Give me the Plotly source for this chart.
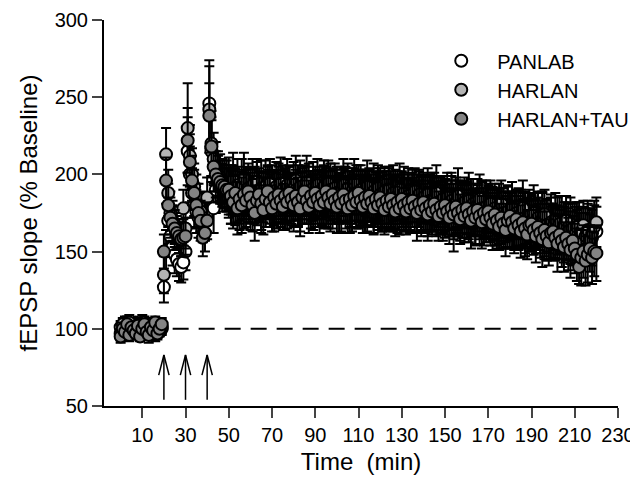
import plotly.graph_objects as go

# ---------------- data ----------------
time_min = list(range(0, 221))   # one sample per minute

panlab_mean = (
    [101, 98, 103, 99, 97, 102, 100, 104, 98, 101, 99, 103, 97, 100, 102, 98, 101, 99, 103, 100]
    + [127, 150, 170, 160, 153, 148, 145, 142, 140, 143]
    + [150, 215, 200, 188, 180, 176, 172, 175, 168, 170]
    + [175, 246, 215, 178, 190, 195, 192, 190, 192, 190]
    + [188, 185, 191, 183, 187, 180, 186, 182, 189, 184,
       181, 187, 183, 190, 185, 179, 186, 182, 188, 184,
       186, 180, 185, 189, 183, 187, 181, 185, 190, 184,
       182, 188, 184, 179, 186, 183, 189, 185, 180, 186,
       183, 187, 181, 185, 190, 184, 180, 186, 182, 187,
       184, 179, 185, 188, 182, 186, 180, 184, 189, 183,
       181, 186, 183, 178, 185, 188, 182, 179, 184, 187,
       182, 178, 185, 181, 186, 180, 183, 187, 179, 184,
       181, 185, 178, 183, 180, 186, 182, 177, 184, 180,
       183, 179, 176, 182, 185, 178, 181, 177, 183, 179,
       175, 181, 177, 183, 168, 176, 180, 174, 178, 181,
       176, 172, 179, 175, 170, 177, 173, 179, 171, 175,
       178, 172, 175, 170, 176, 173, 168, 174, 171, 176,
       169, 173, 167, 172, 175, 168, 171, 165, 170, 173,
       167, 171, 164, 169, 166, 172, 163, 168, 165, 170,
       166, 162, 168, 164, 170, 161, 166, 163, 168, 160,
       165, 161, 167, 158, 163, 160, 166, 162, 159, 164,
       163]
)
panlab_sem = (
    [4, 3, 5, 4, 3, 4, 5, 3, 4, 4, 3, 5, 4, 3, 4, 4, 3, 5, 4, 4]
    + [10, 14, 15, 13, 12, 12, 11, 11, 10, 11]
    + [12, 22, 18, 16, 15, 14, 13, 12, 12, 12]
    + [12, 28, 20, 16, 15, 15, 14, 14, 14, 14]
    + [16, 17, 15, 16, 18, 16, 15, 17, 16, 15,
       17, 16, 15, 18, 16, 17, 15, 16, 17, 16,
       15, 17, 16, 18, 15, 16, 17, 16, 15, 17,
       16, 15, 17, 16, 18, 15, 16, 17, 15, 16,
       17, 16, 15, 17, 16, 18, 15, 16, 17, 16,
       15, 17, 16, 15, 17, 16, 18, 16, 15, 17,
       16, 17, 15, 16, 18, 16, 15, 17, 16, 17,
       16, 15, 17, 16, 18, 17, 15, 16, 17, 16,
       17, 16, 15, 17, 16, 17, 16, 15, 18, 16,
       15, 17, 16, 18, 16, 15, 17, 16, 15, 17,
       16, 15, 17, 16, 18, 15, 16, 17, 16, 15,
       17, 16, 18, 15, 16, 17, 15, 16, 17, 16,
       15, 16, 17, 16, 15, 18, 16, 17, 15, 16,
       17, 15, 16, 18, 16, 15, 17, 16, 15, 17,
       16, 17, 15, 16, 17, 16, 18, 15, 16, 17,
       15, 16, 17, 15, 16, 18, 16, 15, 17, 16,
       17, 16, 15, 17, 16, 15, 17, 16, 18, 16,
       16]
)

harlan_mean = (
    [97, 103, 100, 96, 104, 99, 101, 98, 102, 100, 104, 97, 101, 99, 103, 100, 96, 102, 98, 101]
    + [135, 213, 188, 175, 170, 167, 163, 160, 158, 178]
    + [165, 230, 212, 200, 192, 186, 180, 176, 172, 170]
    + [185, 242, 220, 210, 205, 200, 198, 196, 195, 194]
    + [194, 190, 196, 189, 193, 186, 192, 197, 188, 191,
       186, 193, 189, 195, 187, 191, 185, 192, 188, 194,
       189, 185, 192, 188, 194, 190, 186, 193, 189, 185,
       191, 196, 188, 192, 186, 190, 195, 189, 184, 191,
       187, 193, 189, 185, 192, 188, 194, 190, 186, 191,
       188, 184, 190, 193, 187, 191, 185, 189, 194, 188,
       186, 190, 184, 188, 192, 186, 183, 189, 185, 191,
       187, 183, 189, 185, 190, 184, 188, 182, 186, 190,
       184, 188, 182, 186, 180, 185, 189, 183, 187, 181,
       185, 181, 187, 183, 179, 184, 188, 182, 178, 184,
       180, 185, 179, 183, 177, 182, 186, 180, 176, 182,
       178, 183, 177, 181, 175, 180, 184, 178, 174, 179,
       176, 181, 174, 178, 172, 177, 181, 175, 171, 176,
       173, 178, 171, 175, 169, 174, 178, 172, 168, 173,
       170, 175, 168, 172, 166, 171, 174, 167, 163, 169,
       166, 171, 164, 168, 162, 167, 170, 163, 159, 165,
       161, 166, 158, 163, 167, 160, 164, 158, 162, 166,
       169]
)
harlan_sem = (
    [3, 4, 4, 3, 5, 4, 3, 4, 4, 3, 5, 4, 3, 4, 4, 3, 4, 5, 3, 4]
    + [12, 17, 15, 14, 13, 12, 12, 11, 11, 12]
    + [13, 29, 20, 17, 15, 14, 14, 13, 13, 13]
    + [13, 28, 21, 17, 16, 15, 15, 14, 14, 15]
    + [17, 16, 18, 15, 17, 16, 18, 17, 15, 16,
       18, 17, 16, 15, 17, 18, 16, 17, 15, 16,
       17, 18, 16, 15, 17, 16, 18, 17, 16, 15,
       17, 16, 18, 17, 15, 16, 17, 18, 16, 17,
       15, 17, 16, 18, 17, 16, 15, 17, 18, 16,
       17, 16, 15, 17, 18, 16, 17, 15, 16, 18,
       17, 16, 18, 15, 17, 16, 17, 18, 16, 15,
       17, 18, 16, 17, 15, 16, 18, 17, 16, 17,
       18, 17, 16, 18, 17, 16, 15, 17, 16, 18,
       16, 18, 17, 15, 16, 17, 18, 16, 17, 15,
       17, 16, 15, 18, 17, 16, 18, 15, 17, 16,
       16, 18, 17, 16, 15, 17, 16, 18, 15, 17,
       18, 15, 17, 16, 18, 17, 15, 16, 18, 17,
       16, 17, 18, 15, 17, 16, 18, 17, 16, 15,
       17, 18, 16, 17, 15, 18, 16, 17, 18, 16,
       15, 17, 16, 18, 17, 15, 16, 18, 17, 16,
       18, 16, 17, 15, 16, 18, 17, 16, 15, 17,
       16]
)

tau_mean = (
    [95, 100, 98, 103, 96, 101, 99, 97, 102, 95, 100, 103, 98, 96, 101, 99, 104, 97, 100, 103]
    + [150, 196, 180, 172, 168, 165, 162, 160, 158, 159]
    + [160, 222, 208, 196, 188, 180, 175, 170, 159, 162]
    + [170, 238, 218, 205, 200, 197, 195, 193, 192, 190]
    + [190, 186, 182, 188, 178, 184, 180, 187, 183, 189,
       185, 180, 175, 183, 187, 181, 177, 184, 189, 182,
       178, 185, 181, 187, 183, 179, 186, 182, 188, 184,
       180, 186, 182, 178, 185, 189, 183, 179, 186, 182,
       188, 184, 180, 186, 182, 189, 185, 181, 187, 183,
       179, 185, 181, 187, 183, 178, 184, 180, 186, 182,
       188, 183, 179, 185, 181, 186, 182, 178, 184, 180,
       185, 181, 177, 183, 179, 184, 180, 176, 182, 178,
       184, 180, 176, 182, 178, 183, 179, 175, 181, 177,
       182, 178, 174, 180, 176, 181, 177, 173, 179, 175,
       180, 176, 172, 178, 174, 179, 175, 171, 177, 173,
       178, 174, 170, 176, 172, 177, 173, 169, 175, 171,
       176, 172, 168, 174, 170, 166, 172, 168, 164, 170,
       173, 169, 165, 171, 167, 163, 169, 165, 161, 167,
       168, 164, 160, 166, 162, 158, 164, 160, 156, 162,
       163, 159, 155, 161, 157, 153, 159, 155, 151, 157,
       152, 148, 140, 146, 150, 144, 148, 152, 146, 150,
       149]
)
tau_sem = (
    [4, 4, 3, 5, 4, 3, 4, 4, 5, 3, 4, 3, 4, 5, 4, 3, 4, 4, 3, 4]
    + [11, 15, 14, 13, 12, 12, 11, 11, 11, 12]
    + [12, 21, 18, 16, 15, 14, 13, 13, 12, 12]
    + [12, 21, 19, 16, 15, 15, 14, 14, 14, 14]
    + [16, 18, 17, 15, 17, 16, 18, 16, 17, 15,
       16, 17, 18, 16, 15, 17, 16, 18, 17, 16,
       15, 17, 16, 18, 17, 15, 16, 17, 18, 16,
       17, 15, 16, 18, 17, 16, 15, 17, 16, 18,
       17, 16, 18, 15, 17, 16, 17, 18, 16, 15,
       17, 16, 18, 17, 15, 16, 18, 17, 16, 17,
       18, 16, 17, 15, 18, 17, 16, 17, 18, 16,
       17, 18, 16, 17, 15, 18, 17, 16, 18, 17,
       16, 17, 15, 18, 16, 17, 16, 18, 15, 17,
       18, 16, 17, 16, 15, 18, 17, 16, 17, 18,
       16, 15, 17, 18, 16, 17, 15, 16, 18, 17,
       17, 16, 18, 15, 17, 16, 18, 17, 16, 15,
       16, 18, 17, 16, 18, 15, 17, 16, 17, 18,
       15, 17, 16, 18, 16, 17, 15, 18, 16, 17,
       18, 16, 17, 15, 16, 18, 17, 16, 15, 17,
       17, 15, 18, 16, 17, 16, 15, 17, 18, 16,
       16, 17, 11, 18, 17, 16, 18, 15, 17, 16,
       18]
)

series_names = ["PANLAB", "HARLAN", "HARLAN+TAU"]
tetanus_times = [20, 30, 40]
baseline_level = 100
arrow_bottom, arrow_tip = 54, 83

x_ticks = [10, 30, 50, 70, 90, 110, 130, 150, 170, 190, 210, 230]
y_ticks = [50, 100, 150, 200, 250, 300]

# ---------------- styles ----------------
FONT = "Liberation Sans, Arial, sans-serif"
fills = ["#ffffff", "#b4b4b4", "#838383"]
means = [panlab_mean, harlan_mean, tau_mean]
sems = [panlab_sem, harlan_sem, tau_sem]

fig = go.Figure()

# dashed baseline
fig.add_trace(go.Scatter(
    x=[time_min[0], time_min[-1]], y=[baseline_level, baseline_level],
    mode="lines", line=dict(color="black", width=2, dash="16px,10px"),
    showlegend=False, hoverinfo="skip"))

# arrows for tetanic stimulations
head_dx, head_dy = 2.4, 13
for t in tetanus_times:
    fig.add_trace(go.Scatter(
        x=[t, t, None, t - head_dx, t, t + head_dx],
        y=[arrow_bottom, arrow_tip, None, arrow_tip - head_dy, arrow_tip, arrow_tip - head_dy],
        mode="lines", line=dict(color="black", width=1.5),
        showlegend=False, hoverinfo="skip"))

for name, m, s, c in zip(series_names, means, sems, fills):
    fig.add_trace(go.Scatter(
        x=time_min, y=m, name=name, mode="markers",
        marker=dict(size=12, color=c, line=dict(color="black", width=2)),
        error_y=dict(type="data", array=s, visible=True, color="black",
                     thickness=2, width=5),
    ))

# the page body adds an 8 px offset, so the figure is 8 px smaller
fig.update_layout(
    width=630, height=472,
    margin=dict(l=96, r=20, t=12, b=74, autoexpand=False),
    paper_bgcolor="white", plot_bgcolor="white",
    font=dict(family=FONT, size=20, color="black"),
    showlegend=True,
    legend=dict(x=0.625, y=0.945, xanchor="left", yanchor="top",
                bgcolor="rgba(0,0,0,0)", font=dict(size=20),
                itemwidth=62, tracegroupgap=0, itemsizing="constant"),
    xaxis=dict(range=[-7.7, 230], tickvals=x_ticks, ticks="outside", ticklen=10,
               tickwidth=2, showline=True, linewidth=2, linecolor="black",
               showgrid=False, zeroline=False, automargin=False,
               title=dict(text="Time\u00a0 (min)", standoff=8)),
    yaxis=dict(range=[50, 300], tickvals=y_ticks, ticks="outside", ticklen=10,
               tickwidth=2, showline=True, linewidth=2, linecolor="black",
               showgrid=False, zeroline=False, automargin=False,
               title=dict(text="fEPSP slope (% Baseline)", standoff=10)),
)

fig.write_html("out.html")
